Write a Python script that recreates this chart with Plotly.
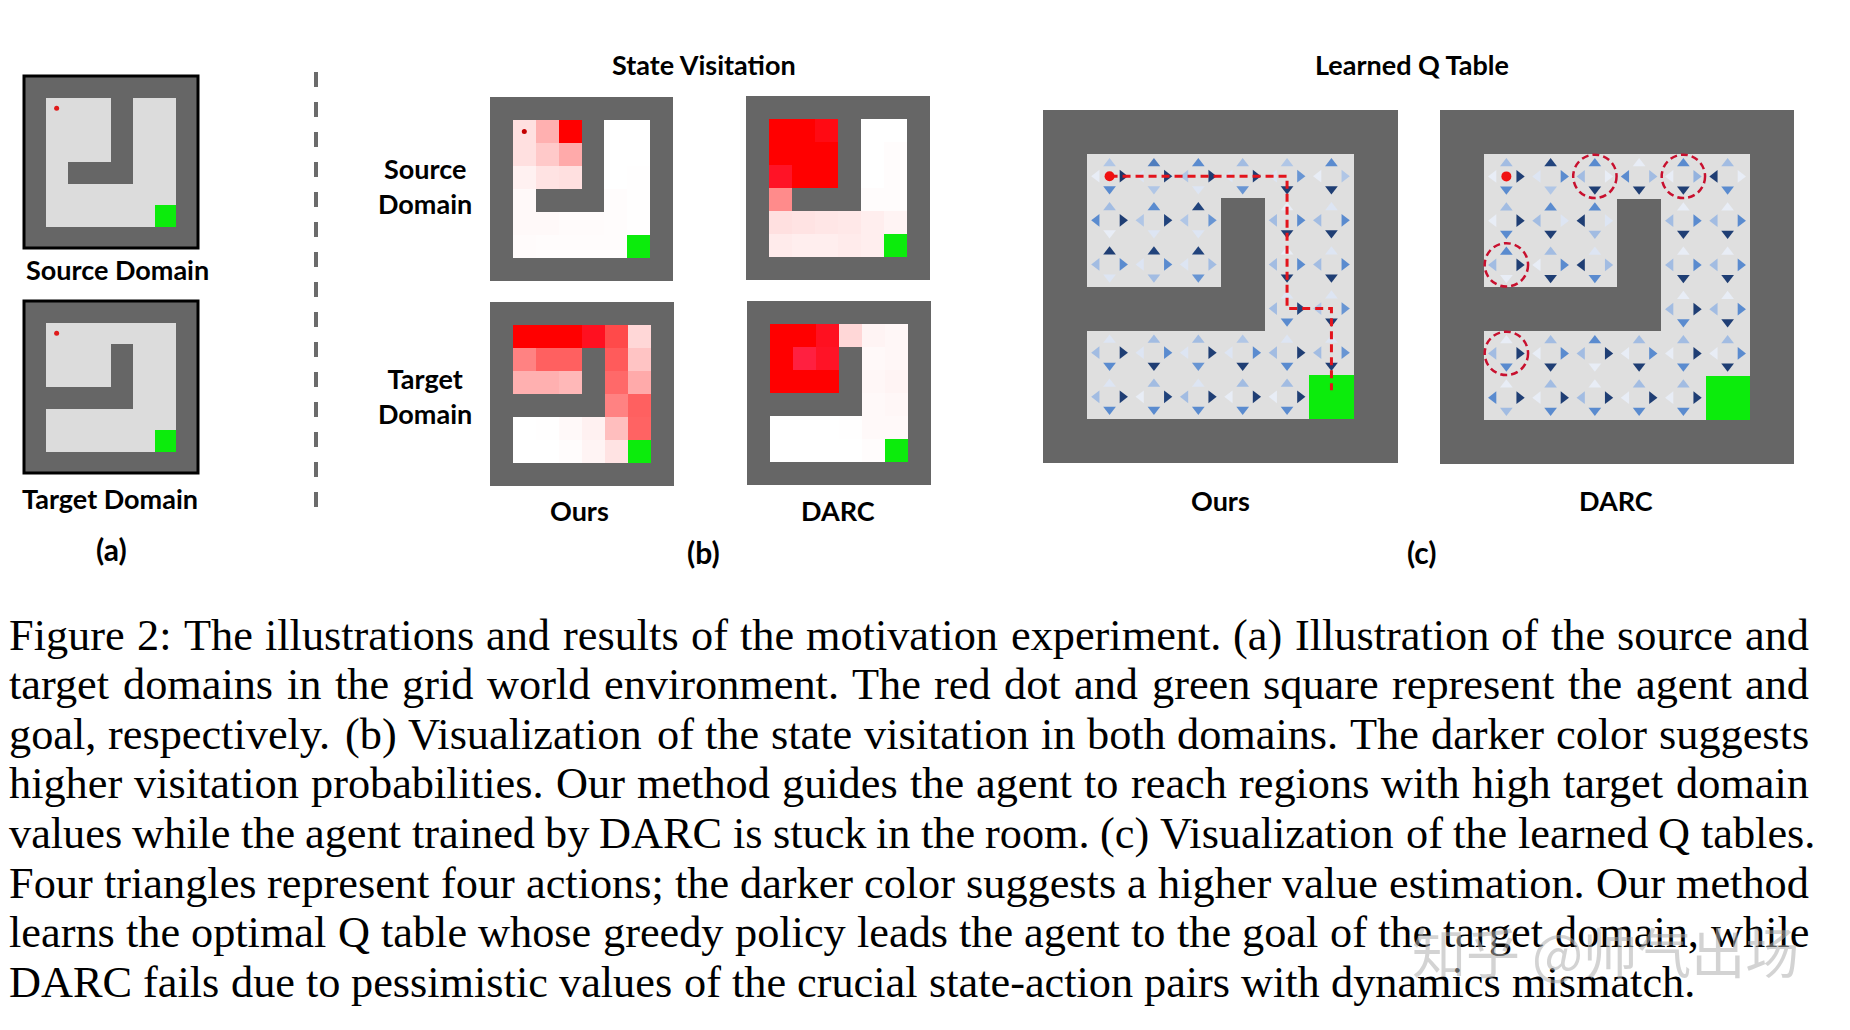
import plotly.graph_objects as go

W, H = 1850, 1030
OFF = 8                      # browser body margin
FW, FH = W - 2 * OFF, H - 2 * OFF

# ---------------- data ----------------
# inner 6x6 layouts: '#' wall, '.' floor, 'S' start, 'G' goal
SOURCE_MAZE = ["S..#..", "...#..", "...#..", ".###..", "......", ".....G"]
TARGET_MAZE = ["S.....", "...#..", "...#..", "####..", "......", ".....G"]

N = None
VISIT_OURS_SOURCE = [
    [0.11, 0.28, 0.90, N, 0.00, 0.00],
    [0.11, 0.19, 0.30, N, 0.00, 0.00],
    [0.05, 0.10, 0.11, N, 0.00, 0.005],
    [0.02, N, N, N, 0.01, 0.005],
    [0.02, 0.02, 0.015, 0.015, 0.01, 0.005],
    [0.015, 0.01, 0.01, 0.01, 0.01, N],
]
VISIT_DARC_SOURCE = [
    [0.90, 0.90, 0.93, N, 0.00, 0.00],
    [0.90, 0.90, 0.90, N, 0.00, 0.01],
    [0.96, 0.90, 0.90, N, 0.00, 0.01],
    [0.41, N, N, N, 0.01, 0.01],
    [0.11, 0.10, 0.09, 0.08, 0.06, 0.04],
    [0.07, 0.06, 0.06, 0.07, 0.06, N],
]
VISIT_OURS_TARGET = [
    [0.90, 0.90, 0.90, 0.95, 0.64, 0.14],
    [0.44, 0.56, 0.56, N, 0.58, 0.21],
    [0.28, 0.28, 0.25, N, 0.53, 0.30],
    [N, N, N, N, 0.44, 0.56],
    [0.00, 0.005, 0.02, 0.05, 0.23, 0.55],
    [0.00, 0.00, 0.01, 0.04, 0.10, N],
]
VISIT_DARC_TARGET = [
    [0.90, 0.90, 0.95, 0.14, 0.04, 0.03],
    [0.90, 1.00, 0.96, N, 0.02, 0.03],
    [0.90, 0.90, 0.90, N, 0.03, 0.04],
    [N, N, N, N, 0.02, 0.03],
    [0.00, 0.00, 0.00, 0.005, 0.02, 0.02],
    [0.00, 0.00, 0.00, 0.00, 0.01, N],
]

Q_OURS_UP = [
    [0.30, 0.65, 0.60, 0.35, 0.30, 0.60],
    [0.35, 0.60, 0.85, N, 0.05, 0.10],
    [0.90, 0.85, 0.85, N, 0.05, 0.10],
    [N, N, N, N, 0.10, 0.10],
    [0.10, 0.35, 0.35, 0.30, 0.10, 0.10],
    [0.10, 0.35, 0.10, 0.35, 0.35, N],
]
Q_OURS_DOWN = [
    [0.60, 0.30, 0.10, 0.55, 0.90, 0.90],
    [0.05, 0.10, 0.10, N, 0.90, 0.90],
    [0.10, 0.35, 0.55, N, 0.90, 0.90],
    [N, N, N, N, 0.60, 0.90],
    [0.60, 0.90, 0.55, 0.90, 0.60, 0.90],
    [0.60, 0.60, 0.60, 0.60, 0.60, N],
]
Q_OURS_LEFT = [
    [0.05, 0.10, 0.30, 0.10, 0.10, 0.05],
    [0.60, 0.30, 0.30, N, 0.35, 0.35],
    [0.35, 0.10, 0.10, N, 0.35, 0.35],
    [N, N, N, N, 0.35, 0.30],
    [0.35, 0.10, 0.10, 0.10, 0.35, 0.35],
    [0.35, 0.05, 0.35, 0.05, 0.05, N],
]
Q_OURS_RIGHT = [
    [0.95, 0.90, 0.90, 0.90, 0.55, 0.30],
    [0.90, 0.85, 0.55, N, 0.60, 0.60],
    [0.60, 0.60, 0.35, N, 0.60, 0.60],
    [N, N, N, N, 0.85, 0.55],
    [0.90, 0.60, 0.90, 0.60, 0.90, 0.55],
    [0.90, 0.85, 0.90, 0.90, 0.90, N],
]
Q_DARC_UP = [
    [0.35, 0.85, 0.60, 0.05, 0.60, 0.35],
    [0.35, 0.60, 0.60, N, 0.05, 0.05],
    [0.60, 0.35, 0.10, N, 0.05, 0.05],
    [N, N, N, N, 0.05, 0.05],
    [0.05, 0.35, 0.60, 0.35, 0.35, 0.35],
    [0.05, 0.35, 0.05, 0.35, 0.35, N],
]
Q_DARC_DOWN = [
    [0.60, 0.30, 0.90, 0.90, 0.90, 0.60],
    [0.60, 0.90, 0.35, N, 0.90, 0.90],
    [0.05, 0.90, 0.60, N, 0.90, 0.90],
    [N, N, N, N, 0.60, 0.90],
    [0.60, 0.90, 0.05, 0.90, 0.60, 0.90],
    [0.35, 0.60, 0.60, 0.60, 0.60, N],
]
Q_DARC_LEFT = [
    [0.05, 0.10, 0.35, 0.60, 0.05, 0.90],
    [0.05, 0.35, 0.90, N, 0.35, 0.35],
    [0.35, 0.05, 0.90, N, 0.35, 0.35],
    [N, N, N, N, 0.35, 0.35],
    [0.35, 0.05, 0.35, 0.05, 0.05, 0.05],
    [0.60, 0.05, 0.35, 0.05, 0.05, N],
]
Q_DARC_RIGHT = [
    [0.90, 0.60, 0.05, 0.35, 0.40, 0.05],
    [0.90, 0.10, 0.10, N, 0.60, 0.60],
    [0.90, 0.60, 0.35, N, 0.60, 0.60],
    [N, N, N, N, 0.90, 0.60],
    [0.90, 0.60, 0.90, 0.60, 0.90, 0.60],
    [0.90, 0.90, 0.90, 0.90, 0.90, N],
]

PATH_OURS_ROW = [0, 0, 3, 3, 4.85]
PATH_OURS_COL = [0, 4, 4, 5, 5]
DARC_CIRCLE_ROW = [0, 0, 2, 4]
DARC_CIRCLE_COL = [2, 4, 0, 0]

CAPTION_LINES = [
    "Figure 2: The illustrations and results of the motivation experiment. (a) Illustration of the source and",
    "target domains in the grid world environment. The red dot and green square represent the agent and",
    "goal, respectively. (b) Visualization of the state visitation in both domains. The darker color suggests",
    "higher visitation probabilities. Our method guides the agent to reach regions with high target domain",
    "values while the agent trained by DARC is stuck in the room. (c) Visualization of the learned Q tables.",
    "Four triangles represent four actions; the darker color suggests a higher value estimation. Our method",
    "learns the optimal Q table whose greedy policy leads the agent to the goal of the target domain, while",
    "DARC fails due to pessimistic values of the crucial state-action pairs with dynamics mismatch.",
]
WATERMARK = "知乎 @帅气出场"

# ---------------- styles ----------------
WALL = "#666666"
FLOOR_A = "#dcdcdc"
FLOOR_C = "#dfdfdf"
GOAL = "#0cec0c"
HEAT_SCALE = [[0, "#ffffff"], [0.9, "#ff0000"], [1.0, "#ff2040"]]
Q_SCALE = [[0, "#f3f5f9"], [0.3, "#b0c6e6"], [0.6, "#5a8bcf"], [0.85, "#21437c"], [1, "#1a3363"]]
LABEL_FONT = dict(family="Lato", size=27, color="black", weight="bold")
ARROW_OFF = 0.29
ARROW_SIZE = 11


def px_x(x):
    return (x - OFF) / FW


def px_y(y):
    return 1 - (y - OFF) / FH


fig = go.Figure()


def pad(maze):
    return ["#" * 8] + ["#" + r + "#" for r in maze] + ["#" * 8]


def ax_names(i):
    return ("x", "y") if i == 1 else (f"x{i}", f"y{i}")


def add_axes(i, box):
    x0, y0, x1, y1 = box
    xn = "xaxis" if i == 1 else f"xaxis{i}"
    yn = "yaxis" if i == 1 else f"yaxis{i}"
    xa, ya = ax_names(i)
    fig.update_layout(**{
        xn: dict(domain=[px_x(x0), px_x(x1)], range=[-0.5, 7.5], visible=False,
                 anchor=ya, fixedrange=True),
        yn: dict(domain=[px_y(y1), px_y(y0)], range=[7.5, -0.5], visible=False,
                 anchor=xa, fixedrange=True),
    })


def solid(color):
    return [[0, color], [1, color]]


def start_cells(g):
    sr = [r for r in range(8) for c in range(8) if g[r][c] == "S"]
    sc = [c for r in range(8) for c in range(8) if g[r][c] == "S"]
    return sr, sc


def draw_maze(i, maze, floor_vals=None, floor_color=None, dot=None):
    g = pad(maze)
    xa, ya = ax_names(i)
    idx = list(range(8))
    wz = [[1 if g[r][c] == "#" else None for c in range(8)] for r in range(8)]
    fig.add_trace(go.Heatmap(x=idx, y=idx, z=wz, colorscale=solid(WALL), zmin=0, zmax=1,
                             showscale=False, hoverinfo="skip", xaxis=xa, yaxis=ya))
    if floor_vals is not None:
        fz = [[None] * 8 for _ in range(8)]
        for r in range(6):
            for c in range(6):
                if maze[r][c] != "#" and floor_vals[r][c] is not None:
                    fz[r + 1][c + 1] = floor_vals[r][c]
        fig.add_trace(go.Heatmap(x=idx, y=idx, z=fz, colorscale=HEAT_SCALE, zmin=0, zmax=1,
                                 showscale=False, hoverinfo="skip", xaxis=xa, yaxis=ya))
    else:
        fz = [[0 if g[r][c] in ".S" else None for c in range(8)] for r in range(8)]
        fig.add_trace(go.Heatmap(x=idx, y=idx, z=fz, colorscale=solid(floor_color), zmin=0, zmax=1,
                                 showscale=False, hoverinfo="skip", xaxis=xa, yaxis=ya))
    gz = [[1 if g[r][c] == "G" else None for c in range(8)] for r in range(8)]
    fig.add_trace(go.Heatmap(x=idx, y=idx, z=gz, colorscale=solid(GOAL), zmin=0, zmax=1,
                             showscale=False, hoverinfo="skip", xaxis=xa, yaxis=ya))
    if dot is not None:
        sr, sc = start_cells(g)
        fig.add_trace(go.Scatter(x=sc, y=sr, mode="markers", hoverinfo="skip",
                                 marker=dict(color=dot[0], size=dot[1], line=dict(width=0)),
                                 xaxis=xa, yaxis=ya))


def draw_q(i, up, down, left, right):
    xa, ya = ax_names(i)
    for vals, sym, dx, dy in [(up, "triangle-up", 0, -ARROW_OFF), (down, "triangle-down", 0, ARROW_OFF),
                              (left, "triangle-left", -ARROW_OFF, 0), (right, "triangle-right", ARROW_OFF, 0)]:
        xs, ys, cs = [], [], []
        for r in range(6):
            for c in range(6):
                if vals[r][c] is not None:
                    xs.append(c + 1 + dx)
                    ys.append(r + 1 + dy)
                    cs.append(vals[r][c])
        fig.add_trace(go.Scatter(x=xs, y=ys, mode="markers", hoverinfo="skip",
                                 marker=dict(symbol=sym, size=ARROW_SIZE, color=cs, colorscale=Q_SCALE,
                                             cmin=0, cmax=1, line=dict(width=0)),
                                 xaxis=xa, yaxis=ya))


BOXES = {
    1: (24, 76, 198, 248),
    2: (24, 301, 198, 473),
    3: (490, 97, 673, 281),
    4: (746, 96, 930, 280),
    5: (490, 302, 674, 486),
    6: (747, 301, 931, 485),
    7: (1043, 110, 1398, 463),
    8: (1440, 110, 1794, 464),
}
for i, b in BOXES.items():
    add_axes(i, b)

draw_maze(1, SOURCE_MAZE, floor_color=FLOOR_A, dot=("#e01b1b", 5))
draw_maze(2, TARGET_MAZE, floor_color=FLOOR_A, dot=("#e01b1b", 5))
draw_maze(3, SOURCE_MAZE, floor_vals=VISIT_OURS_SOURCE, dot=("#c40000", 5))
draw_maze(4, SOURCE_MAZE, floor_vals=VISIT_DARC_SOURCE)
draw_maze(5, TARGET_MAZE, floor_vals=VISIT_OURS_TARGET)
draw_maze(6, TARGET_MAZE, floor_vals=VISIT_DARC_TARGET)
draw_maze(7, TARGET_MAZE, floor_color=FLOOR_C)
draw_maze(8, TARGET_MAZE, floor_color=FLOOR_C)
draw_q(7, Q_OURS_UP, Q_OURS_DOWN, Q_OURS_LEFT, Q_OURS_RIGHT)
draw_q(8, Q_DARC_UP, Q_DARC_DOWN, Q_DARC_LEFT, Q_DARC_RIGHT)

# path of greedy policy (ours)
fig.add_trace(go.Scatter(x=[c + 1 for c in PATH_OURS_COL], y=[r + 1 for r in PATH_OURS_ROW],
                         mode="lines", hoverinfo="skip",
                         line=dict(color="#e3141c", width=3, dash="8px,5px"),
                         xaxis="x7", yaxis="y7"))
for i in (7, 8):
    sr, sc = start_cells(pad(TARGET_MAZE))
    xa, ya = ax_names(i)
    fig.add_trace(go.Scatter(x=sc, y=sr, mode="markers", hoverinfo="skip",
                             marker=dict(color="#f01010", size=10, line=dict(width=0)),
                             xaxis=xa, yaxis=ya))

shapes = []
for r, c in zip(DARC_CIRCLE_ROW, DARC_CIRCLE_COL):
    shapes.append(dict(type="circle", xref="x8", yref="y8",
                       x0=c + 1 - 0.49, x1=c + 1 + 0.49, y0=r + 1 - 0.49, y1=r + 1 + 0.49,
                       line=dict(color="#c8102e", width=2.5, dash="7px,4px")))
for i in (1, 2):
    xa, ya = ax_names(i)
    shapes.append(dict(type="rect", xref=f"{xa} domain", yref=f"{ya} domain", x0=0, x1=1, y0=0, y1=1,
                       line=dict(color="black", width=3)))
shapes.append(dict(type="line", xref="paper", yref="paper", x0=px_x(316), x1=px_x(316),
                   y0=px_y(72), y1=px_y(513), line=dict(color="#6b6b6b", width=4, dash="15px,15px")))

annotations = []


def label(text, x, y, size=27):
    f = dict(LABEL_FONT)
    f["size"] = size
    annotations.append(dict(text=text, x=px_x(x), y=px_y(y), xref="paper", yref="paper",
                            showarrow=False, xanchor="center", yanchor="middle", font=f))


label("Source Domain", 117, 269)
label("Target Domain", 110, 499)
label("(a)", 111, 549, 30)
label("State Visitation", 704, 65)
label("Source<br>Domain", 425, 186)
label("Target<br>Domain", 425, 396)
label("Ours", 579, 510)
label("DARC", 838, 510)
label("(b)", 703, 552, 30)
label("Learned Q Table", 1412, 65)
label("Ours", 1220, 500)
label("DARC", 1616, 500)
label("(c)", 1422, 552, 30)

# ---------------- caption (Times metrics, justified) ----------------
LOW = [444, 500, 444, 500, 444, 333, 500, 500, 278, 278, 500, 278, 778, 500, 500, 500, 500, 333, 389,
       278, 500, 500, 722, 500, 500, 444]
UPP = [722, 667, 667, 722, 611, 556, 722, 722, 333, 389, 722, 611, 889, 722, 722, 556, 722, 667, 556,
       611, 722, 722, 944, 722, 722, 611]
CW = {chr(97 + k): v for k, v in enumerate(LOW)}
CW.update({chr(65 + k): v for k, v in enumerate(UPP)})
CW.update({str(d): 500 for d in range(10)})
CW.update({" ": 250, ".": 250, ",": 250, ":": 278, ";": 278, "-": 333, "(": 333, ")": 333})


def units(s):
    return sum(CW.get(ch, 500) for ch in s)


LEFT = 8
RIGHTS = [1808, 1808, 1808, 1808, 1814, 1808, 1808, None]
ratios = sorted((RIGHTS[k] - LEFT) * 1000 / units(CAPTION_LINES[k]) for k in range(7))
fs = ratios[len(ratios) // 2] * 0.995
BASE_MID = 635
LINE_H = 49.6
for k, line in enumerate(CAPTION_LINES):
    words = line.split(" ")
    ww = [units(w) * fs / 1000 for w in words]
    if RIGHTS[k] is not None:
        gap = (RIGHTS[k] - LEFT - sum(ww)) / (len(words) - 1)
    else:
        gap = 250 * fs / 1000
    x = LEFT
    ymid = BASE_MID + LINE_H * k
    for w, wd in zip(words, ww):
        annotations.append(dict(text=w, x=px_x(x), y=px_y(ymid), xref="paper", yref="paper",
                                showarrow=False, xanchor="left", yanchor="middle", borderpad=0,
                                font=dict(family="Liberation Serif", size=fs, color="black")))
        x += wd + gap

annotations.append(dict(text=WATERMARK, x=px_x(1605), y=px_y(950), xref="paper", yref="paper",
                        showarrow=False, xanchor="center", yanchor="middle",
                        font=dict(family="Noto Sans CJK SC", size=54, color="rgba(175,175,175,0.55)")))

fig.update_layout(width=FW, height=FH, margin=dict(l=0, r=0, t=0, b=0),
                  paper_bgcolor="white", plot_bgcolor="rgba(0,0,0,0)",
                  showlegend=False, shapes=shapes, annotations=annotations)
fig.write_html("out.html")
